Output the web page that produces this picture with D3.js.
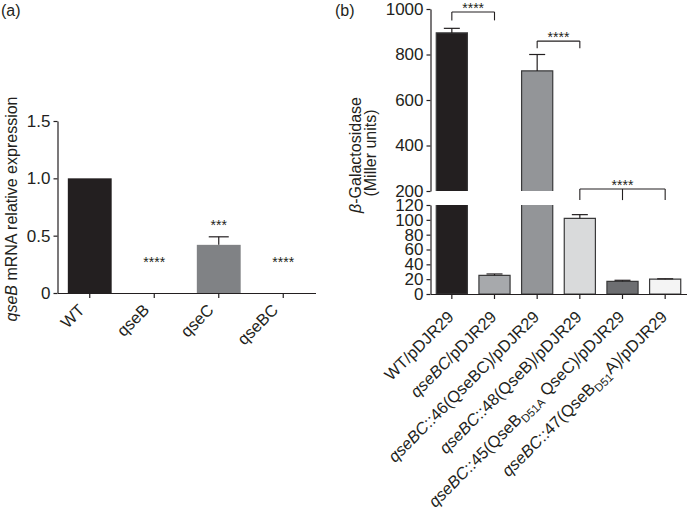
<!DOCTYPE html>
<html><head><meta charset="utf-8">
<script src="https://cdn.jsdelivr.net/npm/d3@7"></script>
<style>
body{margin:0;background:#fff;}
text{font-family:"Liberation Sans",Arial,Helvetica,sans-serif;fill:#231f20;}
</style></head>
<body><svg id="chart" width="694" height="522"></svg>
<script>
// ---------- Panel (a) data ----------
const catsA = ["WT", "qseB", "qseC", "qseBC"];
const valsA = [1.0, 0, 0.42, 0];
const errA = [0, 0, 0.07, 0];
const starsA = ["", "****", "***", "****"];
const starLevelA = [null, 0.3, 0.62, 0.3];
const colorsA = ["#231f20", "#231f20", "#808285", "#231f20"];
const ticksA = [0, 0.5, 1.0, 1.5];
const tickLabelsA = ["0", "0.5", "1.0", "1.5"];

// ---------- Panel (b) data ----------
const catsB = [
  "WT/pDJR29",
  "<i>qseBC</i>/pDJR29",
  "<i>qseBC</i>::46(QseBC)/pDJR29",
  "<i>qseBC</i>::48(QseB)/pDJR29",
  "<i>qseBC</i>::45(QseB<sub>D51A</sub> QseC)/pDJR29",
  "<i>qseBC</i>::47(QseB<sub>D51</sub>A)/pDJR29"
];
const valsB = [895, 25, 728, 102, 17, 20];
const errB = [20, 2, 72, 5, 1.5, 0.5];
const colorsB = ["#231f20", "#a7a9ac", "#939598", "#d9dadb", "#6d6e71", "#f4f4f4"];
const ticksLow = [0, 20, 40, 60, 80, 100, 120];
const ticksHigh = [200, 400, 600, 800, 1000];
// brackets: category indices, top level, foot level (data units)
const bracketIdx = [[0, 1], [2, 3], [3, 4, 5]];
const bracketTop = [987, 859, 209];
const bracketFoot = [950, 828, 148];
const bracketStars = ["****", "****", "****"];

const svg = d3.select("#chart");
const ink = "#231f20";
const FS = 17;

// ================= Panel (a) =================
const xA = d3.scaleBand().domain(catsA).range([57.5, 315.5]).paddingInner(0.32).paddingOuter(0.16);
const yA = d3.scaleLinear().domain([0, 1.5]).range([293, 121]);
const gA = svg.append("g");

gA.selectAll("rect.bar").data(catsA).join("rect")
  .attr("x", d => xA(d)).attr("width", xA.bandwidth())
  .attr("y", (d, i) => yA(valsA[i])).attr("height", (d, i) => yA(0) - yA(valsA[i]))
  .attr("fill", (d, i) => colorsA[i]);

catsA.forEach((c, i) => {
  if (errA[i] > 0) {
    const cx = xA(c) + xA.bandwidth() / 2;
    gA.append("line").attr("x1", cx).attr("x2", cx).attr("y1", yA(valsA[i])).attr("y2", yA(valsA[i] + errA[i])).attr("stroke", ink).attr("stroke-width", 1.2);
    gA.append("line").attr("x1", cx - 10).attr("x2", cx + 10).attr("y1", yA(valsA[i] + errA[i])).attr("y2", yA(valsA[i] + errA[i])).attr("stroke", ink).attr("stroke-width", 1.2);
  }
  if (starsA[i]) {
    gA.append("text").attr("x", xA(c) + xA.bandwidth() / 2).attr("y", yA(starLevelA[i]) + 8)
      .attr("text-anchor", "middle").attr("font-size", 14).text(starsA[i]);
  }
});

const axAy = gA.append("g").attr("transform", "translate(57.5,0)")
  .call(d3.axisLeft(yA).tickValues(ticksA).tickFormat((d, i) => tickLabelsA[i]).tickSize(4).tickSizeOuter(0).tickPadding(3));
const axAx = gA.append("g").attr("transform", "translate(0,293)")
  .call(d3.axisBottom(xA).tickSize(5).tickSizeOuter(0).tickFormat(""));
[axAy, axAx].forEach(a => {
  a.selectAll("path,line").attr("stroke", ink).attr("stroke-width", 1.2);
  a.selectAll("text").attr("font-size", FS).attr("fill", ink).style("font-family", '"Liberation Sans",Arial,sans-serif');
});

gA.selectAll("text.xl").data(catsA).join("text").attr("class", "xl")
  .attr("transform", d => `translate(${xA(d) + xA.bandwidth() / 2 - 4},311) rotate(-45)`)
  .attr("text-anchor", "end").attr("font-size", 16.5).text(d => d);

const ylabA = gA.append("text").attr("transform", "translate(17,209) rotate(-90)")
  .attr("text-anchor", "middle").attr("font-size", 16);
ylabA.append("tspan").attr("font-style", "italic").text("qseB");
ylabA.append("tspan").text(" mRNA relative expression");

svg.append("text").attr("x", 1).attr("y", 16).attr("font-size", 16).text("(a)");

// ================= Panel (b) =================
const xB = d3.scaleBand().domain(d3.range(catsB.length)).range([430.5, 686.5]).paddingInner(0.27).paddingOuter(0.135);
const yLow = d3.scaleLinear().domain([0, 120]).range([294, 205]);
const yHigh = d3.scaleLinear().domain([200, 1000]).range([191, 9]);
const yB = d3.scaleLinear().domain([0, 120, 200, 1000]).range([294, 205, 191, 9]);
const gB = svg.append("g");

valsB.forEach((v, i) => {
  const x0 = xB(i), w = xB.bandwidth();
  const segs = [[0, Math.min(v, 120), true, v <= 120]];
  if (v > 200) segs.push([200, v, false, true]);
  segs.forEach(([a, b, hasBottom, hasTop]) => {
    const yt = yB(b), yb = yB(a);
    gB.append("rect").attr("x", x0).attr("width", w).attr("y", yt).attr("height", yb - yt)
      .attr("fill", colorsB[i]);
    let p = `M${x0},${hasBottom ? yb : yb}`;
    p = `M${x0},${yb}V${yt}`;
    p += hasTop ? `H${x0 + w}` : `M${x0 + w},${yt}`;
    p += `V${yb}`;
    if (hasBottom) p += `H${x0}`;
    gB.append("path").attr("d", p).attr("fill", "none").attr("stroke", "#3a3a3b").attr("stroke-width", 1.2);
  });
  const cx = x0 + w / 2;
  gB.append("line").attr("x1", cx).attr("x2", cx).attr("y1", yB(v)).attr("y2", yB(v + errB[i])).attr("stroke", ink).attr("stroke-width", 1.2);
  gB.append("line").attr("x1", cx - 8).attr("x2", cx + 8).attr("y1", yB(v + errB[i])).attr("y2", yB(v + errB[i])).attr("stroke", ink).attr("stroke-width", 1.2);
});

// brackets
bracketIdx.forEach((idx, k) => {
  const xs = idx.map(i => xB(i) + xB.bandwidth() / 2);
  const yt = yB(bracketTop[k]), yf = yB(bracketFoot[k]);
  gB.append("line").attr("x1", xs[0]).attr("x2", xs[xs.length - 1]).attr("y1", yt).attr("y2", yt).attr("stroke", ink).attr("stroke-width", 1.1);
  xs.forEach(x => gB.append("line").attr("x1", x).attr("x2", x).attr("y1", yt).attr("y2", yf).attr("stroke", ink).attr("stroke-width", 1.1));
  gB.append("text").attr("x", (xs[0] + xs[xs.length - 1]) / 2).attr("y", yt + 1)
    .attr("text-anchor", "middle").attr("font-size", 14).text(bracketStars[k]);
});

const axLow = gB.append("g").attr("transform", "translate(430.5,0)")
  .call(d3.axisLeft(yLow).tickValues(ticksLow).tickFormat(d3.format("d")).tickSize(4).tickSizeOuter(0).tickPadding(3));
const axHigh = gB.append("g").attr("transform", "translate(430.5,0)")
  .call(d3.axisLeft(yHigh).tickValues(ticksHigh).tickFormat(d3.format("d")).tickSize(4).tickSizeOuter(0).tickPadding(3));
const axBx = gB.append("g").attr("transform", "translate(0,294)")
  .call(d3.axisBottom(xB).tickSize(5).tickSizeOuter(0).tickFormat(""));
[axLow, axHigh, axBx].forEach(a => {
  a.selectAll("path,line").attr("stroke", ink).attr("stroke-width", 1.2);
  a.selectAll("text").attr("font-size", FS).attr("fill", ink).style("font-family", '"Liberation Sans",Arial,sans-serif');
});

// rich x labels
function richText(sel, str) {
  const parts = str.split(/(<i>.*?<\/i>|<sub>.*?<\/sub>)/).filter(s => s.length);
  let shifted = false;
  parts.forEach(p => {
    let m;
    if ((m = p.match(/^<i>(.*)<\/i>$/))) {
      const t = sel.append("tspan").attr("font-style", "italic").text(m[1]);
      if (shifted) { t.attr("dy", -4); shifted = false; }
    } else if ((m = p.match(/^<sub>(.*)<\/sub>$/))) {
      sel.append("tspan").attr("font-size", 11.5).attr("dy", 4).text(m[1]);
      shifted = true;
    } else {
      const t = sel.append("tspan").text(p);
      if (shifted) { t.attr("dy", -4); shifted = false; }
    }
  });
}
catsB.forEach((c, i) => {
  const t = gB.append("text")
    .attr("transform", `translate(${xB(i) + xB.bandwidth() / 2 + 3},318) rotate(-45)`)
    .attr("text-anchor", "end").attr("font-size", 16.5);
  richText(t, c);
});

const ylabB = gB.append("text").attr("transform", "translate(361,155) rotate(-90)")
  .attr("text-anchor", "middle").attr("font-size", 16);
ylabB.append("tspan").attr("font-style", "italic").text("β");
ylabB.append("tspan").text("-Galactosidase");
gB.append("text").attr("transform", "translate(376,153) rotate(-90)")
  .attr("text-anchor", "middle").attr("font-size", 16).text("(Miller units)");

svg.append("text").attr("x", 335).attr("y", 16).attr("font-size", 16).text("(b)");
</script></body></html>
